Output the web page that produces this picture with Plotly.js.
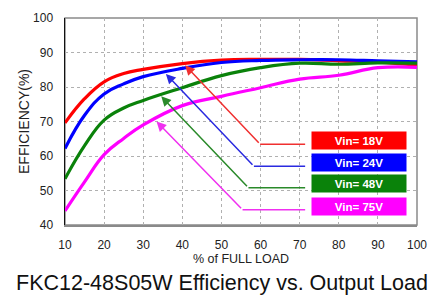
<!DOCTYPE html>
<html>
<head>
<meta charset="utf-8">
<script src="https://cdn.plot.ly/plotly-3.0.1.min.js"></script>
<style>html,body{margin:0;padding:0;background:#fff;}#chart{width:444px;height:296px;}</style>
</head>
<body>
<div id="chart"></div>
<script>
const loads = [10, 15, 20, 25, 30, 40, 50, 60, 70, 80, 90, 100];
const eff18 = [69.6, 76.6, 81.5, 83.9, 85.1, 86.8, 87.8, 88.0, 88.0, 87.6, 87.2, 86.3];
const eff24 = [62.2, 71.8, 78.0, 80.9, 83.0, 85.4, 87.1, 87.7, 87.9, 87.9, 87.6, 87.3];
const eff48 = [53.4, 63.0, 70.4, 73.9, 76.1, 79.8, 83.3, 85.6, 86.9, 86.6, 87.0, 86.9];
const eff75 = [44.1, 52.5, 60.4, 65.1, 69.0, 74.6, 77.3, 79.8, 82.3, 83.4, 85.6, 85.7];
const seriesNames = ["Vin= 18V", "Vin= 24V", "Vin= 48V", "Vin= 75V"];
const xTicks = [10, 20, 30, 40, 50, 60, 70, 80, 90, 100];
const yTicks = [40, 50, 60, 70, 80, 90, 100];

const colors = ["#ff0000", "#0000ff", "#0a820a", "#ff00ff"];
const arrowColors = ["#f03030", "#2a2ae0", "#2a8a2a", "#f030f0"];
const allSeries = [eff18, eff24, eff48, eff75];

const traces = allSeries.map((ys, i) => ({
  x: loads, y: ys, type: "scatter", mode: "lines", name: seriesNames[i],
  line: {color: colors[i], width: 3.2, shape: "spline", smoothing: 1.2},
  hoverinfo: "skip"
}));

// annotation geometry (arrow tip, elbow, end of horizontal leader, label box centre)
const tips   = [[40.7, 86.3], [35.8, 83.8], [34.6, 77.3], [33.4, 70.0]];
const elbows = [[59.9, 63.4], [58.3, 57.0], [56.9, 50.8], [55.4, 44.4]];
const leadEnd = 71.4;
const boxY = [64.4, 58.2, 52.0, 45.5];
const boxX = 85.2;

const annotations = [];
const shapes = [
  {type: "rect", xref: "paper", yref: "paper", x0: 0, x1: 1, y0: 0, y1: 1,
   line: {color: "#8a8a8a", width: 1.5}, layer: "below"}
];
for (let i = 0; i < 4; i++) {
  annotations.push({
    x: tips[i][0], y: tips[i][1], ax: elbows[i][0], ay: elbows[i][1],
    xref: "x", yref: "y", axref: "x", ayref: "y", text: "",
    showarrow: true, arrowhead: 2, arrowsize: 1.3, arrowwidth: 1.5,
    arrowcolor: arrowColors[i]
  });
  shapes.push({type: "line", xref: "x", yref: "y",
    x0: elbows[i][0], x1: leadEnd, y0: elbows[i][1], y1: elbows[i][1],
    line: {color: arrowColors[i], width: 1.5}});
  annotations.push({
    x: boxX, y: boxY[i], xref: "x", yref: "y", text: "<b>" + seriesNames[i] + "</b>",
    showarrow: false, bgcolor: colors[i], width: 92, height: 15,
    font: {family: "Liberation Sans, Arial, sans-serif", size: 11.5, color: "#ffffff"},
    xanchor: "center", yanchor: "middle"
  });
}

const layout = {
  width: 444, height: 296,
  margin: {l: 65, r: 27, t: 18, b: 71},
  paper_bgcolor: "#ffffff", plot_bgcolor: "#ffffff",
  showlegend: false,
  font: {family: "Liberation Sans, Arial, sans-serif", color: "#222"},
  title: {
    text: "FKC12-48S05W Efficiency vs. Output Load",
    font: {family: "Liberation Sans, Arial, sans-serif", size: 21.5, color: "#111"},
    x: 0.5, xref: "container", xanchor: "center",
    y: 0.045, yref: "container", yanchor: "middle"
  },
  xaxis: {
    range: [10, 100], tickvals: xTicks, ticktext: xTicks.map(String),
    showgrid: true, gridcolor: "#b0b0b0", griddash: "dot", gridwidth: 1,
    zeroline: false, showline: true, linecolor: "#8a8a8a", linewidth: 1.5,
    ticks: "", ticklabelstandoff: 8,
    tickfont: {size: 12, color: "#222"},
    title: {text: "% of FULL LOAD", font: {size: 12.5, color: "#222"}, standoff: 0}
  },
  yaxis: {
    range: [40, 100], tickvals: yTicks, ticktext: yTicks.map(String),
    showgrid: true, gridcolor: "#b0b0b0", griddash: "dot", gridwidth: 1,
    zeroline: false, showline: true, linecolor: "#111", linewidth: 1.5,
    ticks: "", ticklabelstandoff: 8,
    tickfont: {size: 12, color: "#222"},
    title: {text: "EFFICIENCY(%)", font: {size: 14, color: "#222"}, standoff: 0}
  },
  annotations: annotations,
  shapes: shapes
};

Plotly.newPlot("chart", traces, layout, {staticPlot: true, displayModeBar: false});
</script>
</body>
</html>
